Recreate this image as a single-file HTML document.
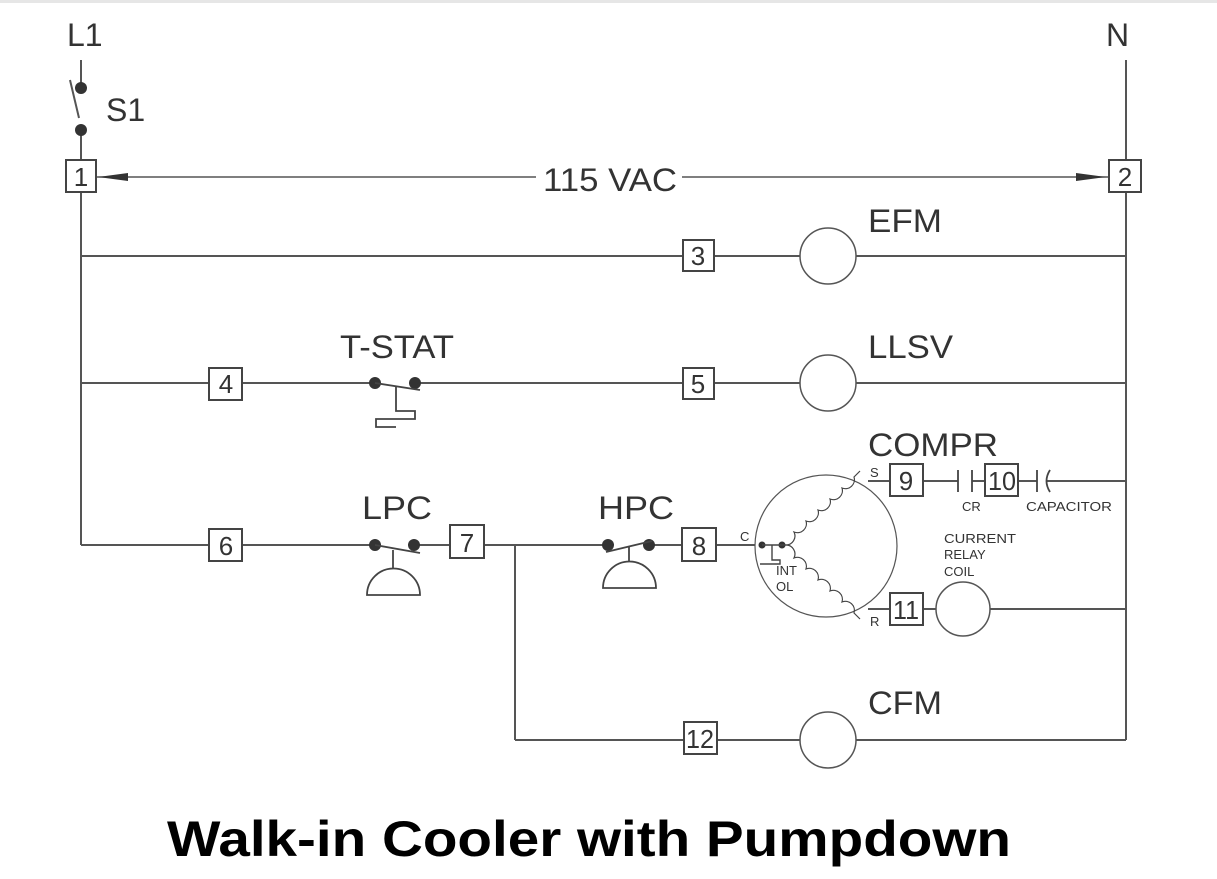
<!DOCTYPE html>
<html><head><meta charset="utf-8"><style>
html,body{margin:0;padding:0;background:#fff;}
svg{display:block;}
text{font-family:"Liberation Sans",sans-serif;fill:#333;}
</style></head><body>
<svg width="1217" height="879" viewBox="0 0 1217 879" xmlns="http://www.w3.org/2000/svg">
<rect x="0" y="0" width="1217" height="3" fill="#e6e6e6"/>
<g stroke="#555" stroke-width="2" fill="none">
<line x1="81" y1="60" x2="81" y2="86"/>
<line x1="81" y1="130" x2="81" y2="545"/>
<line x1="70" y1="80" x2="79" y2="118"/>
<line x1="1126" y1="60" x2="1126" y2="740"/>
<line x1="96" y1="177" x2="536" y2="177" stroke-width="1.5"/>
<line x1="682" y1="177" x2="1108" y2="177" stroke-width="1.5"/>
<line x1="81" y1="256" x2="800" y2="256"/>
<line x1="856" y1="256" x2="1126" y2="256"/>
<line x1="81" y1="383" x2="375" y2="383"/>
<line x1="415" y1="383" x2="800" y2="383"/>
<line x1="856" y1="383" x2="1126" y2="383"/>
<line x1="81" y1="545" x2="375" y2="545"/>
<line x1="414" y1="545" x2="608" y2="545"/>
<line x1="649" y1="545" x2="762" y2="545"/>
<line x1="515" y1="545" x2="515" y2="740"/>
<line x1="515" y1="740" x2="800" y2="740"/>
<line x1="856" y1="740" x2="1126" y2="740"/>
<line x1="868" y1="481" x2="958" y2="481"/>
<line x1="972" y1="481" x2="1037" y2="481"/>
<line x1="1047" y1="481" x2="1126" y2="481"/>
<line x1="868" y1="609" x2="936" y2="609"/>
<line x1="990" y1="609" x2="1126" y2="609"/>
</g>
<polygon points="98,177 128,173 128,181" fill="#333"/>
<polygon points="1106,177 1076,173 1076,181" fill="#333"/>
<circle cx="81" cy="88" r="6" fill="#333"/>
<circle cx="81" cy="130" r="6" fill="#333"/>
<g fill="#fff" stroke="#555" stroke-width="1.5">
<circle cx="828" cy="256" r="28"/>
<circle cx="828" cy="383" r="28"/>
<circle cx="828" cy="740" r="28"/>
<circle cx="963" cy="609" r="27"/>
<circle cx="826" cy="546" r="71" stroke-width="1.2"/>
</g>
<g fill="#333">
<circle cx="375" cy="383" r="6"/><circle cx="415" cy="383" r="6"/>
<circle cx="375" cy="545" r="6"/><circle cx="414" cy="545" r="6"/>
<circle cx="608" cy="545" r="6"/><circle cx="649" cy="545" r="6"/>
<circle cx="762" cy="545" r="3.5"/><circle cx="782" cy="545" r="3.5"/>
</g>
<g stroke="#444" stroke-width="1.8" fill="none">
<line x1="375" y1="383" x2="420" y2="390"/>
<polyline points="396,387 396,411 415,411 415,419 376,419 376,427 396,427"/>
<line x1="375" y1="545" x2="420" y2="553"/>
<line x1="393" y1="550" x2="393" y2="568"/>
<path d="M367,595 A26,26 0 0 1 420,595 Z"/>
<line x1="606" y1="552" x2="652" y2="541"/>
<line x1="629" y1="547" x2="629" y2="561"/>
<path d="M603,588 A26,26 0 0 1 656,588 Z"/>
<line x1="958" y1="470" x2="958" y2="492"/><line x1="972" y1="470" x2="972" y2="492"/>
<line x1="1037" y1="470" x2="1037" y2="492"/>
<path d="M1050,470 Q1043,481 1050,492"/>
<polyline points="772,545 772,560 780,560 780,564 760,564" stroke-width="1.4"/>
<line x1="762" y1="545" x2="786" y2="545" stroke-width="1.4"/>
<path stroke-width="1.2" d="M786,545 a9,9 0 0 0 8,-13 a9,9 0 0 0 12,-11 a9,9 0 0 0 12,-11 a9,9 0 0 0 12,-11 a9,9 0 0 0 12,-11 a9,9 0 0 0 12,-11 l6,-6"/>
<path stroke-width="1.2" d="M786,545 a9,9 0 0 1 8,13 a9,9 0 0 1 12,11 a9,9 0 0 1 12,11 a9,9 0 0 1 12,11 a9,9 0 0 1 12,11 a9,9 0 0 1 12,11 l6,6"/>
</g>
<g fill="#fff" stroke="#444" stroke-width="2">
<rect x="66" y="160" width="30" height="32"/>
<rect x="1109" y="160" width="32" height="32"/>
<rect x="683" y="240" width="31" height="31"/>
<rect x="209" y="368" width="33" height="32"/>
<rect x="683" y="368" width="31" height="31"/>
<rect x="209" y="529" width="33" height="32"/>
<rect x="450" y="525" width="34" height="33"/>
<rect x="682" y="528" width="34" height="33"/>
<rect x="890" y="464" width="33" height="32"/>
<rect x="985" y="464" width="33" height="32"/>
<rect x="890" y="593" width="33" height="32"/>
<rect x="684" y="722" width="33" height="32"/>
</g>
<g font-size="26" text-anchor="middle">
<text x="81" y="186">1</text>
<text x="1125" y="186">2</text>
<text x="698" y="265">3</text>
<text x="226" y="393">4</text>
<text x="698" y="393">5</text>
<text x="226" y="555">6</text>
<text x="467" y="552">7</text>
<text x="699" y="555">8</text>
<text x="906" y="490">9</text>
<text x="1002" y="490" textLength="28" lengthAdjust="spacingAndGlyphs">10</text>
<text x="906" y="619" textLength="26" lengthAdjust="spacingAndGlyphs">11</text>
<text x="700" y="748" textLength="28" lengthAdjust="spacingAndGlyphs">12</text>
</g>
<g font-size="32">
<text x="67" y="46">L1</text>
<text x="1106" y="46">N</text>
<text x="106" y="121">S1</text>
<text x="543" y="191" textLength="134" lengthAdjust="spacingAndGlyphs">115 VAC</text>
<text x="868" y="232" textLength="74" lengthAdjust="spacingAndGlyphs">EFM</text>
<text x="868" y="358" textLength="85" lengthAdjust="spacingAndGlyphs">LLSV</text>
<text x="340" y="358" textLength="114" lengthAdjust="spacingAndGlyphs">T-STAT</text>
<text x="868" y="456" textLength="130" lengthAdjust="spacingAndGlyphs">COMPR</text>
<text x="362" y="519" textLength="70" lengthAdjust="spacingAndGlyphs">LPC</text>
<text x="598" y="519" textLength="76" lengthAdjust="spacingAndGlyphs">HPC</text>
<text x="868" y="714" textLength="74" lengthAdjust="spacingAndGlyphs">CFM</text>
</g>
<g font-size="13">
<text x="870" y="477">S</text>
<text x="740" y="541">C</text>
<text x="870" y="626">R</text>
<text x="962" y="511">CR</text>
<text x="1026" y="511" textLength="86" lengthAdjust="spacingAndGlyphs">CAPACITOR</text>
<text x="776" y="575">INT</text>
<text x="776" y="591">OL</text>
<text x="944" y="543" textLength="72" lengthAdjust="spacingAndGlyphs">CURRENT</text>
<text x="944" y="559">RELAY</text>
<text x="944" y="576">COIL</text>
</g>
<text x="167" y="856" font-size="50" font-weight="bold" style="fill:#000" textLength="844" lengthAdjust="spacingAndGlyphs">Walk-in Cooler with Pumpdown</text>
</svg>
</body></html>
